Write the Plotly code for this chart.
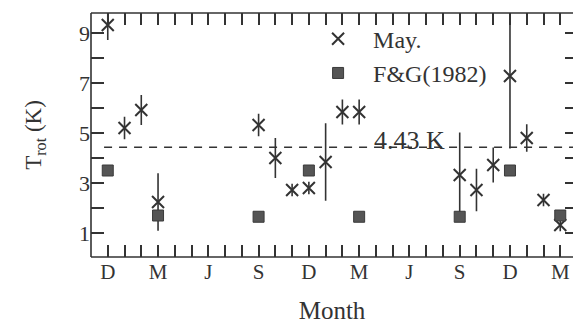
import plotly.graph_objects as go

# Months counted from the first December (0 = D, 3 = M, 6 = J, 9 = S, ...)
may_month = [0, 1, 2, 3, 9, 10, 11, 12, 13, 14, 15, 21, 22, 23, 24, 25, 26, 27]
may_trot = [9.32, 5.2, 5.92, 2.24, 5.32, 4.0, 2.72, 2.8, 3.84, 5.84, 5.84,
            3.32, 2.72, 3.72, 7.28, 4.8, 2.32, 1.32]
may_err = [0.6, 0.45, 0.6, 1.15, 0.45, 0.8, 0.25, 0.25, 1.55, 0.5, 0.5,
           1.7, 0.85, 0.7, 2.9, 0.55, 0.25, 0.25]

fg_month = [0, 3, 9, 12, 15, 21, 24, 27]
fg_trot = [3.5, 1.7, 1.65, 3.5, 1.65, 1.65, 3.5, 1.7]

ref_value = 4.43
ref_label = "4.43 K"

tick_months = [0, 3, 6, 9, 12, 15, 18, 21, 24, 27]
tick_text = ["D", "M", "J", "S", "D", "M", "J", "S", "D", "M"]
ytick_vals = [1, 3, 5, 7, 9]

INK = "#333333"
FONT = "Liberation Serif"

# every month gets a tick, only the quarter months get a letter
all_months = list(range(-1, 29))
all_month_text = [tick_text[tick_months.index(m)] if m in tick_months else "" for m in all_months]
all_y = list(range(0, 11))
all_y_text = [str(v) if v in ytick_vals else "" for v in all_y]

fig = go.Figure()

fig.add_trace(go.Scatter(
    x=may_month, y=may_trot, mode="markers", name="May.",
    marker=dict(symbol="x-thin", size=12, line=dict(width=2, color=INK), color=INK),
    error_y=dict(type="data", array=may_err, visible=True, width=0,
                 thickness=1.6, color=INK),
))
fig.add_trace(go.Scatter(
    x=fg_month, y=fg_trot, mode="markers", name="F&G(1982)",
    marker=dict(symbol="square", size=11, color="#555555",
                line=dict(width=1, color="#3a3a3a")),
))
# invisible helper traces so the top and right tick axes are drawn
helper = dict(showlegend=False, hoverinfo="skip", mode="markers", marker=dict(opacity=0))
fig.add_trace(go.Scatter(x=[0], y=[5], xaxis="x2", yaxis="y", **helper))
fig.add_trace(go.Scatter(x=[0], y=[5], xaxis="x", yaxis="y2", **helper))

# frame (left, bottom, top); the right edge of the original is cropped
frame = dict(color=INK, width=1.6)
fig.add_shape(type="line", xref="paper", yref="paper", x0=0, x1=0, y0=0, y1=1, line=frame)
fig.add_shape(type="line", xref="paper", yref="paper", x0=0, x1=1, y0=0, y1=0, line=frame)
fig.add_shape(type="line", xref="paper", yref="paper", x0=0, x1=1, y0=1, y1=1, line=frame)

fig.add_shape(type="line", xref="x", yref="y", x0=-0.22, x1=28, y0=ref_value, y1=ref_value,
              line=dict(color=INK, width=1.6, dash="8px,7px"))
fig.add_annotation(x=18, y=ref_value, xref="x", yref="y", text=ref_label, showarrow=False,
                   yshift=7, font=dict(family=FONT, size=26, color=INK))

xr = [-1, 27.76]
yr = [0.04, 9.8]
tick_style = dict(ticks="inside", tickwidth=1.6, tickcolor=INK, showgrid=False,
                  zeroline=False, showline=False)

fig.update_layout(
    width=573, height=325,
    margin=dict(l=91, r=0, t=13, b=68),
    paper_bgcolor="white", plot_bgcolor="rgba(0,0,0,0)",
    font=dict(family=FONT, color=INK, size=21),
    showlegend=True,
    legend=dict(x=0.44, y=0.985, xanchor="left", yanchor="top",
                bgcolor="rgba(0,0,0,0)", font=dict(family=FONT, size=24, color=INK),
                tracegroupgap=0, itemwidth=60),
    xaxis=dict(
        range=xr, ticklen=12, **tick_style,
        tickmode="array", tickvals=all_months, ticktext=all_month_text,
        tickfont=dict(family=FONT, size=21, color=INK),
        title=dict(text="Month", font=dict(family=FONT, size=25, color=INK), standoff=18),
    ),
    xaxis2=dict(
        range=xr, overlaying="x", side="top", ticklen=12, **tick_style,
        tickmode="array", tickvals=all_months, showticklabels=False,
    ),
    yaxis=dict(
        range=yr, ticklen=13, **tick_style,
        tickmode="array", tickvals=all_y, ticktext=all_y_text,
        tickfont=dict(family=FONT, size=22, color=INK),
        title=dict(text="T<sub>rot</sub> (K)", font=dict(family=FONT, size=23, color=INK), standoff=30),
    ),
    yaxis2=dict(
        range=yr, overlaying="y", side="right", ticklen=8, **tick_style,
        tickmode="array", tickvals=all_y, showticklabels=False,
    ),
)

fig.write_html("out.html", config={"displayModeBar": False},
               post_script="document.body.style.margin='0';document.body.style.overflow='hidden';")
